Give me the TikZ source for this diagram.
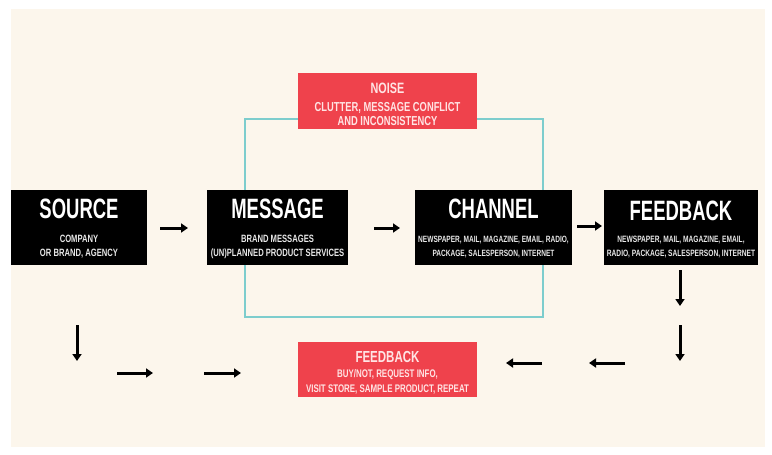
\documentclass[tikz,border=0pt]{standalone}
\usepackage{fontspec}
\usetikzlibrary{arrows.meta}
\newfontfamily\ttlfont[FakeStretch=0.66]{Liberation Sans}
\newfontfamily\subfont[FakeStretch=0.72]{Liberation Sans}
\definecolor{cream}{RGB}{252,246,236}
\definecolor{noisered}{RGB}{239,66,76}
\definecolor{cyanline}{RGB}{125,205,205}
\definecolor{pinkwhite}{RGB}{255,228,228}
\definecolor{subwhite}{RGB}{232,232,232}
\begin{document}
\begin{tikzpicture}[x=1pt,y=-1pt,
  blackbox/.style={fill=black,draw=none,inner sep=0pt},
  redbox/.style={fill=noisered,draw=none,inner sep=0pt},
  ttl/.style={anchor=base,text=white,inner sep=0pt,font=\ttlfont\bfseries\fontsize{28}{28}\selectfont},
  subt/.style={anchor=base,text=subwhite,inner sep=0pt,font=\subfont\bfseries\fontsize{#1}{#1}\selectfont},
  redt/.style={anchor=base,text=pinkwhite,inner sep=0pt,font=\subfont\bfseries\fontsize{#1}{#1}\selectfont},
  arr/.style={line width=3pt,-{Triangle[length=7pt,width=9pt]}}
]
\useasboundingbox (0,0) rectangle (772,455);
\fill[white] (0,0) rectangle (772,455);
\fill[cream] (11,9) rectangle (765,447);

% noise frame
\draw[cyanline,line width=1.5pt] (245,119) rectangle (543,317);

% black boxes
\node[blackbox,minimum width=136pt,minimum height=75pt] (source) at (79,227.5) {};
\node[blackbox,minimum width=141pt,minimum height=75pt] (message) at (277.5,227.5) {};
\node[blackbox,minimum width=157pt,minimum height=75pt] (channel) at (493.5,227.5) {};
\node[blackbox,minimum width=154pt,minimum height=75pt] (feedback) at (681,227.5) {};

% red boxes
\node[redbox,minimum width=179pt,minimum height=56pt] (noise) at (387.5,101) {};
\node[redbox,minimum width=179pt,minimum height=55pt] (response) at (387.5,369.5) {};

% texts in black boxes
\node[ttl] (sourceT) at (79,218) {SOURCE};
\node[subt=10.6] (sourceA) at (79,242.5) {COMPANY};
\node[subt=10.6] (sourceB) at (79,256) {OR BRAND, AGENCY};

\node[ttl] (messageT) at (277.5,218) {MESSAGE};
\node[subt=10.6] (messageA) at (277.5,242.5) {BRAND MESSAGES};
\node[subt=10.6] (messageB) at (277.5,256) {(UN)PLANNED PRODUCT SERVICES};

\node[ttl] (channelT) at (493.5,218) {CHANNEL};
\node[subt=9.1] (channelA) at (493.5,242.5) {NEWSPAPER, MAIL, MAGAZINE, EMAIL, RADIO,};
\node[subt=9.1] (channelB) at (493.5,256) {PACKAGE, SALESPERSON, INTERNET};

\node[ttl] (feedbackT) at (681,220) {FEEDBACK};
\node[subt=9.2] (feedbackA) at (681,242.5) {NEWSPAPER, MAIL, MAGAZINE, EMAIL,};
\node[subt=9.2] (feedbackB) at (681,256) {RADIO, PACKAGE, SALESPERSON, INTERNET};

% texts in red boxes
\node[redt=15] (noiseT) at (387.5,93) {NOISE};
\node[redt=13] (noiseA) at (387.5,111) {CLUTTER, MESSAGE CONFLICT};
\node[redt=13] (noiseB) at (387.5,125) {AND INCONSISTENCY};

\node[redt=16] (responseT) at (387.5,362) {FEEDBACK};
\node[redt=11] (responseA) at (387.5,377) {BUY/NOT, REQUEST INFO,};
\node[redt=11] (responseB) at (387.5,392) {VISIT STORE, SAMPLE PRODUCT, REPEAT};

% arrow end points
\coordinate (a1s) at (160,228); \coordinate (a1e) at (188,228);
\coordinate (a2s) at (374,228); \coordinate (a2e) at (400,228);
\coordinate (a3s) at (577,226); \coordinate (a3e) at (602,226);
\coordinate (d1s) at (680,270); \coordinate (d1e) at (680,306);
\coordinate (d2s) at (680,325); \coordinate (d2e) at (680,361);
\coordinate (l1s) at (542,363); \coordinate (l1e) at (506,363);
\coordinate (l2s) at (625,363); \coordinate (l2e) at (589,363);
\coordinate (s1s) at (77,325); \coordinate (s1e) at (77,361);
\coordinate (r1s) at (117,373); \coordinate (r1e) at (153,373);
\coordinate (r2s) at (204,373); \coordinate (r2e) at (241,373);

\draw[arr] (a1s) -- (a1e);
\draw[arr] (a2s) -- (a2e);
\draw[arr] (a3s) -- (a3e);
\draw[arr] (d1s) -- (d1e);
\draw[arr] (d2s) -- (d2e);
\draw[arr] (l1s) -- (l1e);
\draw[arr] (l2s) -- (l2e);
\draw[arr] (s1s) -- (s1e);
\draw[arr] (r1s) -- (r1e);
\draw[arr] (r2s) -- (r2e);
\end{tikzpicture}
\end{document}
